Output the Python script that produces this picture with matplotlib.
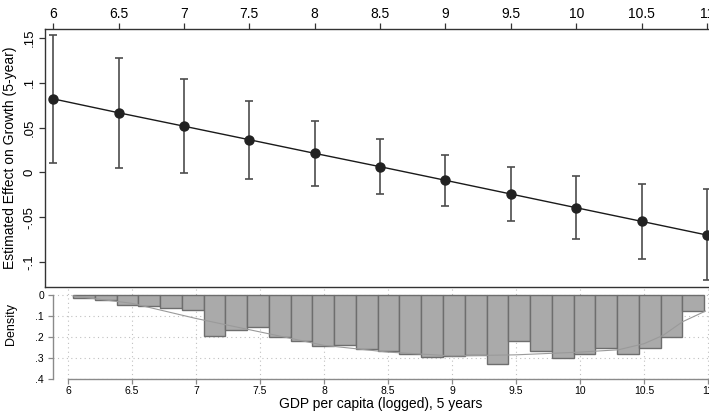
import numpy as np
import matplotlib
matplotlib.use("Agg")
import matplotlib.pyplot as plt

plt.rcParams['font.family'] = ['Liberation Sans', 'DejaVu Sans']

# marginal effect estimates
gdp = [6, 6.5, 7, 7.5, 8, 8.5, 9, 9.5, 10, 10.5, 11]
effect = [0.082, 0.0665, 0.0515, 0.0364, 0.0212, 0.0063, -0.0089, -0.0242, -0.0395, -0.0547, -0.070]
ci_hi = [0.1536, 0.128, 0.104, 0.080, 0.0576, 0.0368, 0.0193, 0.0059, -0.0045, -0.0127, -0.019]
ci_lo = [0.0107, 0.005, -0.001, -0.0075, -0.0153, -0.0246, -0.038, -0.0547, -0.0748, -0.0968, -0.1205]

# histogram of log GDP per capita (density)
hist_lo, hist_hi = 6.04, 10.97
density = [0.014, 0.022, 0.048, 0.054, 0.064, 0.070, 0.194, 0.167, 0.152, 0.198,
           0.219, 0.241, 0.237, 0.257, 0.268, 0.281, 0.294, 0.289, 0.284, 0.330,
           0.219, 0.268, 0.302, 0.281, 0.254, 0.281, 0.254, 0.200, 0.075]

curve_x = [6.04, 6.5, 7.0, 7.5, 8.0, 8.5, 9.0, 9.5, 10.0, 10.3, 10.5, 10.65, 10.8, 10.98]
curve_y = [0.005, 0.040, 0.112, 0.176, 0.240, 0.272, 0.290, 0.285, 0.272, 0.261, 0.232, 0.192, 0.128, 0.077]

xticks = [6, 6.5, 7, 7.5, 8, 8.5, 9, 9.5, 10, 10.5, 11]
xlabels = ['6', '6.5', '7', '7.5', '8', '8.5', '9', '9.5', '10', '10.5', '11']
yticks_top = [0.15, 0.1, 0.05, 0, -0.05, -0.1]
ylabels_top = ['.15', '.1', '.05', '0', '-.05', '-.1']
yticks_bot = [0, 0.1, 0.2, 0.3, 0.4]
ylabels_bot = ['0', '.1', '.2', '.3', '.4']

fig = plt.figure(figsize=(7.09, 4.13), dpi=100)

W, H = 709.0, 413.0
# top panel (extends past right edge, as in the cropped original)
ax = fig.add_axes([45 / W, (H - 287) / H, (720 - 45) / W, (287 - 29) / H])
ax.set_xlim(5.937, 11.1)
ax.set_ylim(-0.128, 0.160)
ax.plot(gdp, effect, color='#1a1a1a', lw=1.0, zorder=2)
ax.errorbar(gdp, effect, yerr=[np.array(effect) - np.array(ci_lo), np.array(ci_hi) - np.array(effect)],
            fmt='none', ecolor='#4d4d4d', elinewidth=1.2, capsize=3, capthick=1.2, zorder=3)
ax.plot(gdp, effect, 'o', color='#222222', ms=6.5, zorder=4)
ax.xaxis.tick_top()
ax.set_xticks(xticks)
ax.set_xticklabels(xlabels, fontsize=10)
ax.set_yticks(yticks_top)
ax.set_yticklabels(ylabels_top, fontsize=9.5, rotation=90, va='center')
ax.tick_params(axis='both', direction='out', length=4, width=0.9, color='#333333', pad=3)
ax.tick_params(axis='x', pad=2)
for s in ax.spines.values():
    s.set_color('#333333')
    s.set_linewidth(1.0)
ax.set_ylabel('Estimated Effect on Growth (5-year)', fontsize=10)
ax.yaxis.set_label_coords(-0.041, 0.5)

# bottom panel: inverted histogram
bx = fig.add_axes([53 / W, (H - 379) / H, (709 - 53) / W, (379 - 288) / H])
bx.patch.set_alpha(0)
bx.set_xlim(5.883, 11.008)
bx.set_ylim(0.4, -0.033)
edges = np.linspace(hist_lo, hist_hi, len(density) + 1)
bx.bar(edges[:-1], density, width=np.diff(edges), align='edge',
       color='#aaaaaa', edgecolor='#6e6e6e', linewidth=1.0, zorder=2)
bx.plot(curve_x, curve_y, color='#9a9a9a', lw=0.8, zorder=3)
bx.set_xticks(xticks)
bx.set_xticklabels(xlabels, fontsize=7.5)
bx.set_yticks(yticks_bot)
bx.set_yticklabels(ylabels_bot, fontsize=7.5)
bx.grid(True, linestyle=(0, (1, 3)), color='#c0c0c0', lw=0.8, zorder=0)
for side in ['top', 'right']:
    bx.spines[side].set_visible(False)
bx.spines['left'].set_bounds(0, 0.4)
bx.spines['bottom'].set_bounds(6, 11)
for side in ['left', 'bottom']:
    bx.spines[side].set_color('#8a8a8a')
    bx.spines[side].set_linewidth(1.0)
bx.tick_params(axis='both', direction='out', length=3.5, width=0.9, color='#8a8a8a', pad=3)
bx.tick_params(axis='x', pad=1.5)
bx.set_ylabel('Density', fontsize=9)
bx.yaxis.set_label_coords(-0.055, 0.6)
bx.set_xlabel('GDP per capita (logged), 5 years', fontsize=10, labelpad=0.5)

fig.savefig('out.png', dpi=100)
